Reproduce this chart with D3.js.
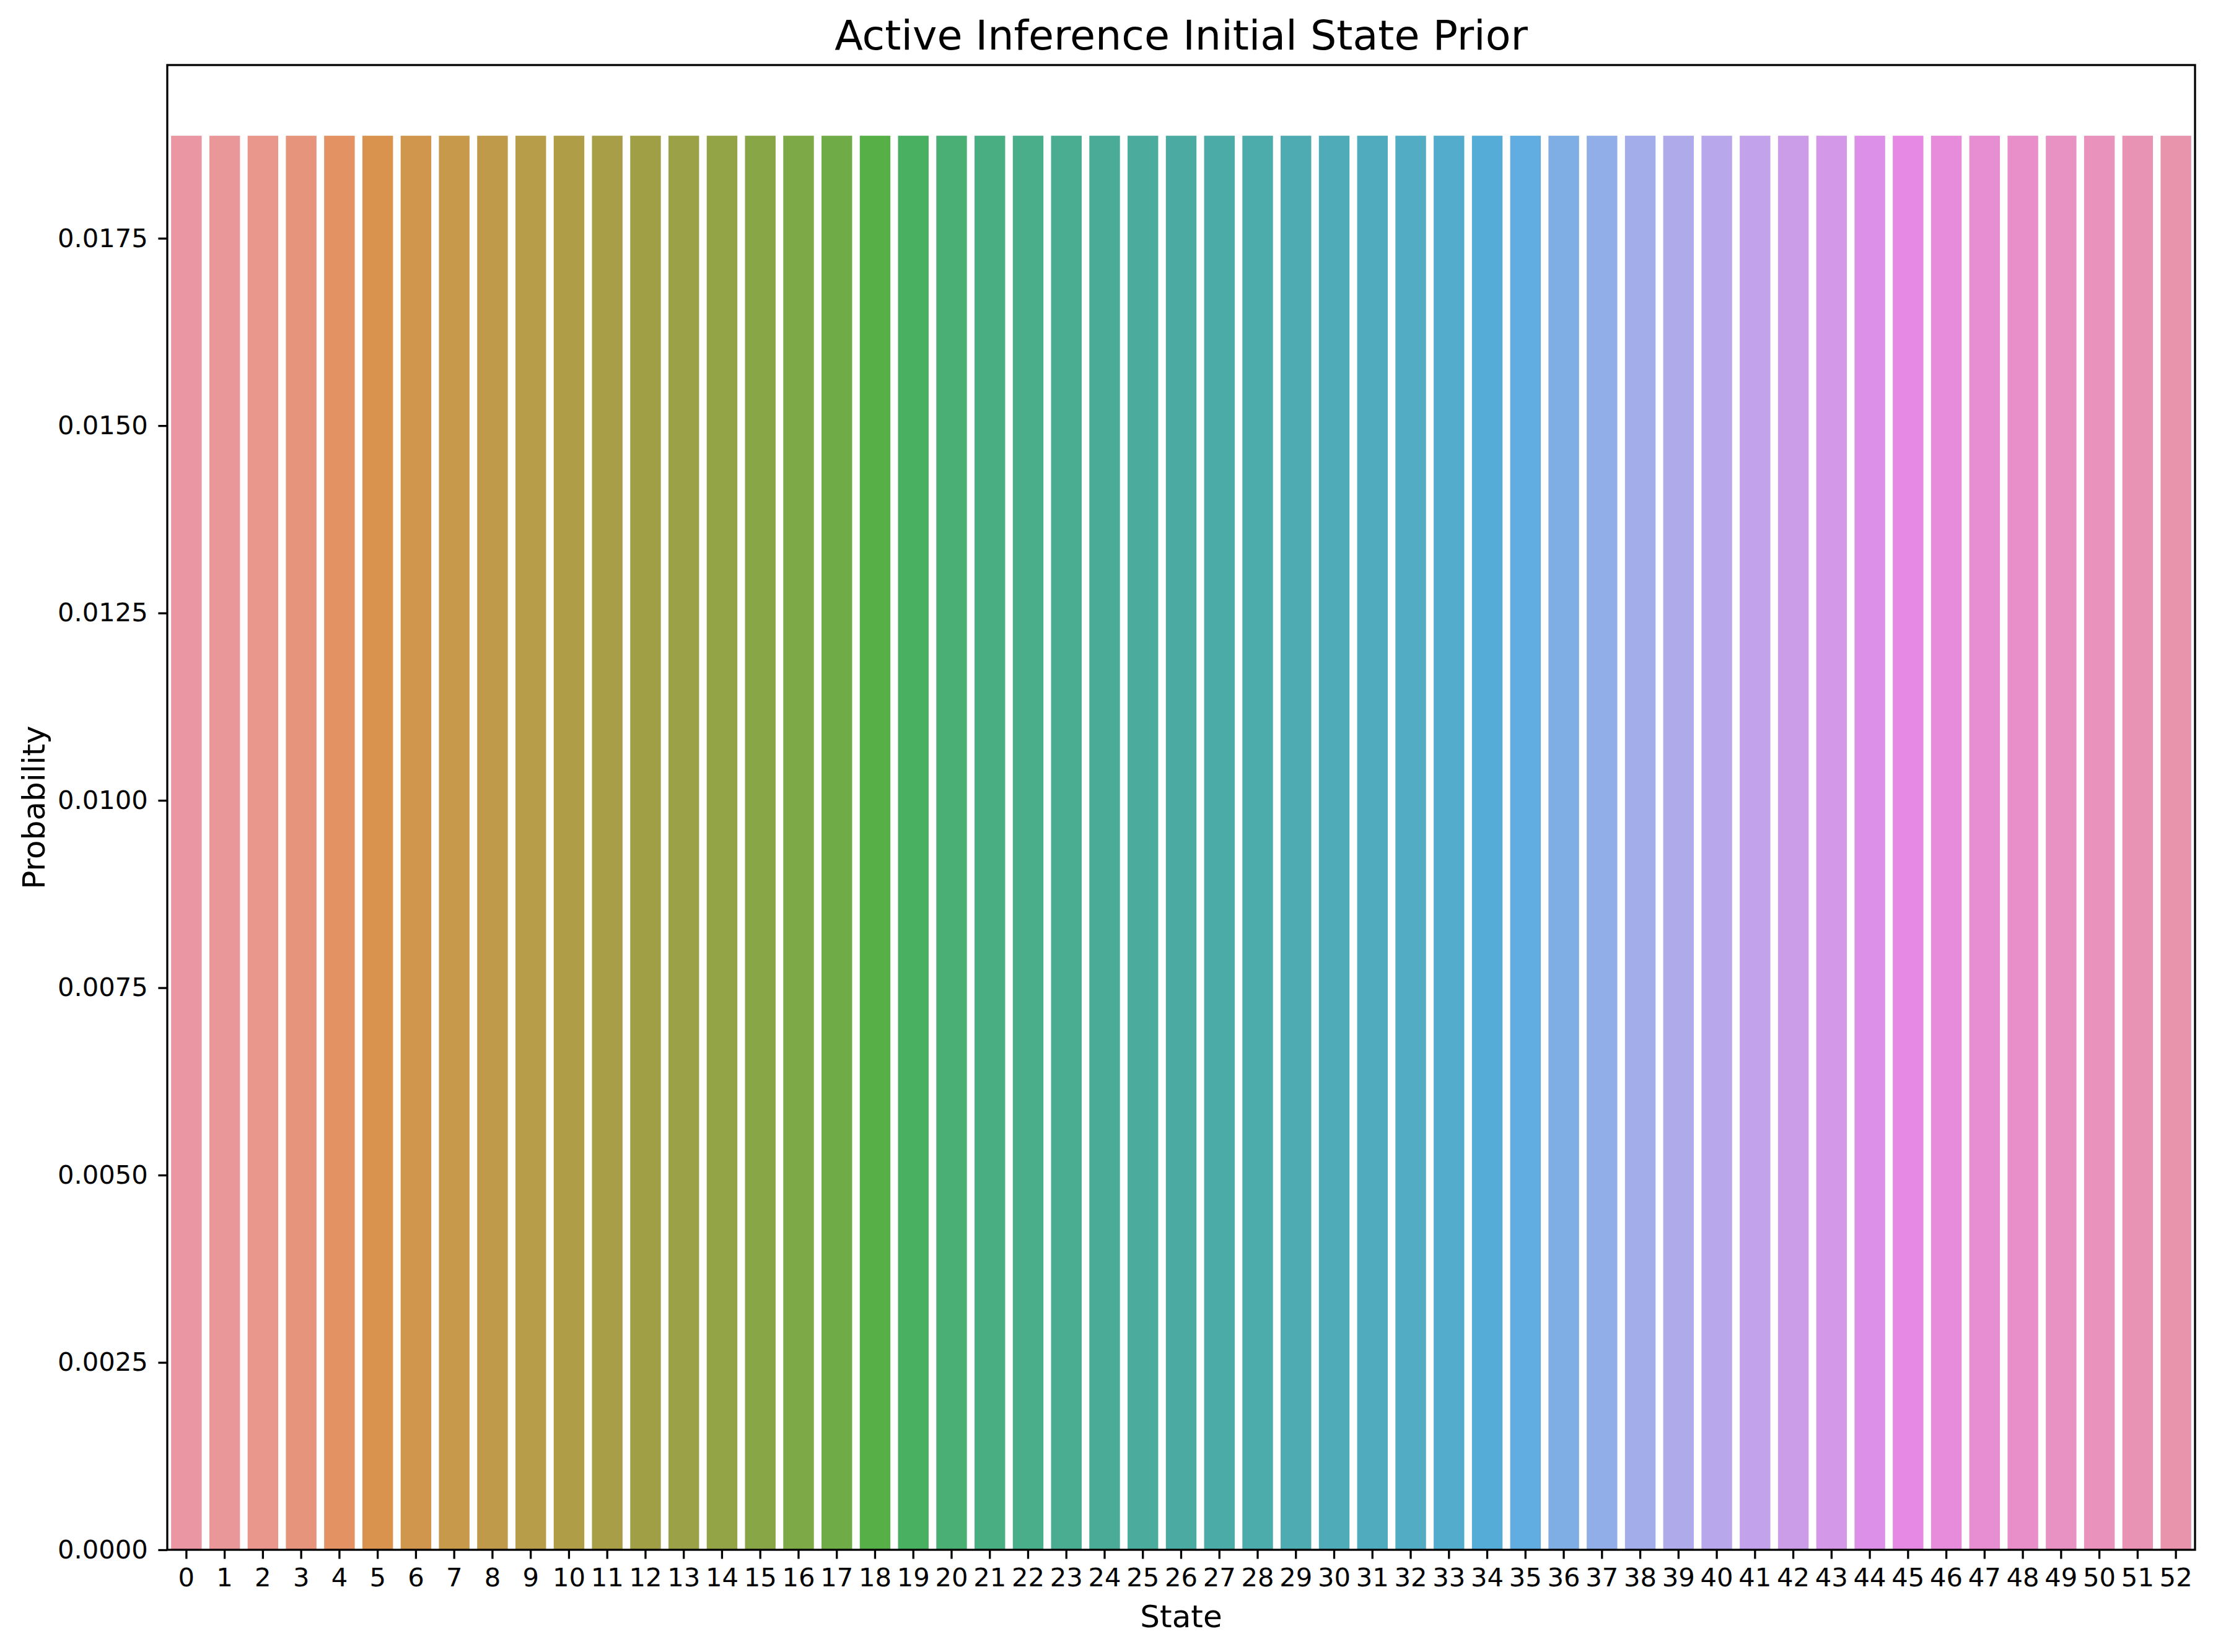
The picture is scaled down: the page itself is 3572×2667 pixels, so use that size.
<!DOCTYPE html>
<html>
<head>
<meta charset="utf-8">
<script src="https://cdn.jsdelivr.net/npm/d3@7"></script>
<style>
  html, body { margin: 0; padding: 0; background: #fff; }
  svg { display: block; font-family: "DejaVu Sans", sans-serif; }
</style>
</head>
<body>
<svg id="chart" width="3572" height="2667"></svg>
<script>
// every state gets the same prior: 1/53
var states = d3.range(0, 53);
var probs = [
  0.018868, 0.018868, 0.018868, 0.018868, 0.018868, 0.018868, 0.018868, 0.018868, 0.018868, 0.018868,
  0.018868, 0.018868, 0.018868, 0.018868, 0.018868, 0.018868, 0.018868, 0.018868, 0.018868, 0.018868,
  0.018868, 0.018868, 0.018868, 0.018868, 0.018868, 0.018868, 0.018868, 0.018868, 0.018868, 0.018868,
  0.018868, 0.018868, 0.018868, 0.018868, 0.018868, 0.018868, 0.018868, 0.018868, 0.018868, 0.018868,
  0.018868, 0.018868, 0.018868, 0.018868, 0.018868, 0.018868, 0.018868, 0.018868, 0.018868, 0.018868,
  0.018868, 0.018868, 0.018868
];
var yTicks = [0, 0.0025, 0.005, 0.0075, 0.01, 0.0125, 0.015, 0.0175];

var W = 3572, H = 2667;
var margin = {left: 270, right: 3543, top: 105, bottom: 2502};
var tickLen = 14.6, tickPad = 14.6, lw = 3.3;

// husl palette (l=.7) then desaturated to .75, like seaborn's categorical plots
var M = [
  [3.2406, -1.5372, -0.4986],
  [-0.9689, 1.8758, 0.0415],
  [0.0557, -0.2040, 1.0570]
];
var maxChroma = function(L, Hh){
  var hrad = Hh * Math.PI / 180, sinH = Math.sin(hrad), cosH = Math.cos(hrad);
  var sub1 = Math.pow(L + 16, 3) / 1560896.0;
  var sub2 = sub1 > 0.008856 ? sub1 : L / 903.3;
  var result = Infinity;
  M.forEach(function(row){
    var m1 = row[0], m2 = row[1], m3 = row[2];
    var top = (0.99915 * m1 + 1.05122 * m2 + 1.14460 * m3) * sub2;
    var rbottom = 0.86330 * m3 - 0.17266 * m2;
    var lbottom = 0.12949 * m3 - 0.38848 * m1;
    var bottom = (rbottom * sinH + lbottom * cosH) * sub2;
    [0, 1].forEach(function(t){
      var C = L * (top - 1.05122 * t) / (bottom + 0.17266 * sinH * t);
      if (C > 0 && C < result) result = C;
    });
  });
  return result;
};
var huslToRgb = function(Hh, S, L){
  var C = maxChroma(L, Hh) / 100 * S;
  var hrad = Hh * Math.PI / 180;
  var U = Math.cos(hrad) * C, V = Math.sin(hrad) * C;
  var t = (L + 16) / 116;
  var varY = Math.pow(t, 3) > 0.008856 ? Math.pow(t, 3) : (116 * t - 16) / 903.3;
  var varU = U / (13 * L) + 0.19784;
  var varV = V / (13 * L) + 0.46834;
  var Y = varY;
  var X = 0 - (9 * Y * varU) / ((varU - 4) * varV - varU * varV);
  var Z = (9 * Y - (15 * varV * Y) - (varV * X)) / (3 * varV);
  return M.map(function(row){
    var c = row[0] * X + row[1] * Y + row[2] * Z;
    c = c <= 0.0031308 ? 12.92 * c : 1.055 * Math.pow(c, 1 / 2.4) - 0.055;
    return Math.max(0, Math.min(1, c));
  });
};
var palette = states.map(function(d, i){
  var h = ((i / states.length) + 0.01) % 1 * 359;
  var rgb = huslToRgb(h, 0.9 * 99, 0.7 * 99);
  var c = d3.hsl(d3.rgb(rgb[0] * 255, rgb[1] * 255, rgb[2] * 255));
  c.s = c.s * 0.75;
  return c.formatHex();
});

var svg = d3.select('#chart');
svg.append('rect').attr('width', W).attr('height', H).attr('fill', '#fff');

var x = d3.scaleBand().domain(states).range([margin.left, margin.right]).paddingInner(0.2).paddingOuter(0.1);
var y = d3.scaleLinear().domain([0, d3.max(probs) * 1.05]).range([margin.bottom, margin.top]);

svg.append('g').attr('class', 'bars').selectAll('rect').data(probs).enter().append('rect')
  .attr('x', function(d, i){ return x(states[i]); })
  .attr('y', function(d){ return y(d); })
  .attr('width', x.bandwidth())
  .attr('height', function(d){ return y(0) - y(d); })
  .attr('fill', function(d, i){ return palette[i]; });

var xAxis = svg.append('g').attr('transform', 'translate(0,' + margin.bottom + ')')
  .call(d3.axisBottom(x).tickSize(tickLen).tickPadding(tickPad).tickSizeOuter(0));
var yAxis = svg.append('g').attr('transform', 'translate(' + margin.left + ',0)')
  .call(d3.axisLeft(y).tickValues(yTicks).tickFormat(d3.format('.4f')).tickSize(tickLen).tickPadding(tickPad + 2).tickSizeOuter(0));

[xAxis, yAxis].forEach(function(g){
  g.select('.domain').remove();
  g.selectAll('.tick line').attr('stroke', '#000').attr('stroke-width', lw);
  g.selectAll('.tick text').attr('fill', '#000').attr('font-size', 41.7).attr('font-family', '"DejaVu Sans", sans-serif');
});

// frame
svg.append('rect')
  .attr('x', margin.left).attr('y', margin.top)
  .attr('width', margin.right - margin.left).attr('height', margin.bottom - margin.top)
  .attr('fill', 'none').attr('stroke', '#000').attr('stroke-width', lw);

svg.append('text')
  .attr('x', (margin.left + margin.right) / 2).attr('y', 80)
  .attr('text-anchor', 'middle').attr('font-size', 66.7)
  .text('Active Inference Initial State Prior');

svg.append('text')
  .attr('x', (margin.left + margin.right) / 2).attr('y', 2627)
  .attr('text-anchor', 'middle').attr('font-size', 50)
  .text('State');

svg.append('text')
  .attr('transform', 'translate(72,' + (margin.top + margin.bottom) / 2 + ') rotate(-90)')
  .attr('text-anchor', 'middle').attr('font-size', 50)
  .text('Probability');
</script>
</body>
</html>
